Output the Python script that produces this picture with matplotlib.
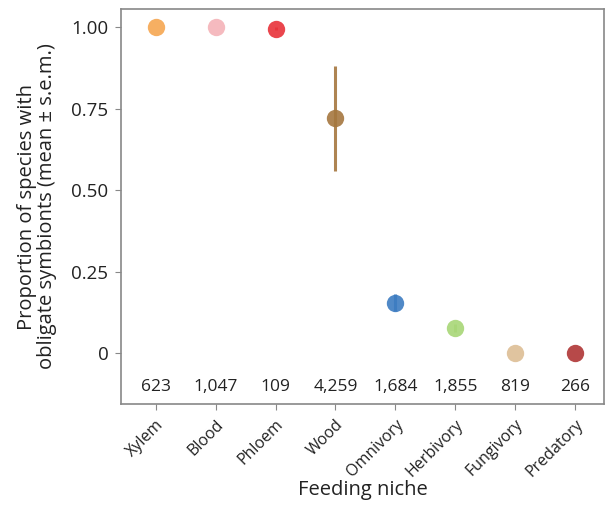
import matplotlib
matplotlib.use("Agg")
import matplotlib.pyplot as plt

plt.rcParams['font.family'] = ['Open Sans', 'DejaVu Sans']

niches = ['Xylem', 'Blood', 'Phloem', 'Wood', 'Omnivory', 'Herbivory', 'Fungivory', 'Predatory']
proportion = [1.0, 1.0, 0.995, 0.72, 0.155, 0.078, 0.0, 0.0]
sem = [0.0, 0.0, 0.004, 0.16, 0.025, 0.012, 0.0, 0.0]
n_species = ['623', '1,047', '109', '4,259', '1,684', '1,855', '819', '266']
colours = ['#F5A651', '#F4B3B8', '#E8323A', '#A5773F', '#3D7CC1', '#A8D677', '#DDBE95', '#AF3535']

fig = plt.figure(figsize=(6.05, 5.31), dpi=100)
ax = fig.add_axes([0.2, 0.239, 0.798, 0.744])

for i in range(len(niches)):
    ax.errorbar(i, proportion[i], yerr=sem[i], fmt='o', color=colours[i],
                markersize=12.5, markeredgewidth=0, elinewidth=2.2, capsize=0,
                alpha=0.9, zorder=3)
    ax.text(i, -0.105, n_species[i], ha='center', va='center', fontsize=12.5, color='#222222')

ax.set_xlim(-0.58, 7.48)
ax.set_ylim(-0.156, 1.055)
ax.set_xticks(range(len(niches)))
ax.set_xticklabels(niches, rotation=45, ha='right', rotation_mode='anchor', fontsize=11.5)
ax.set_yticks([0, 0.25, 0.5, 0.75, 1.0])
ax.set_yticklabels(['0', '0.25', '0.50', '0.75', '1.00'], fontsize=13.5)
ax.tick_params(axis='y', length=4, color='#888888', labelcolor='#222222', pad=5)
ax.tick_params(axis='x', length=4, color='#888888', labelcolor='#222222', pad=5)
for s in ax.spines.values():
    s.set_color('#888888')
    s.set_linewidth(1.2)

ax.set_ylabel('Proportion of species with\nobligate symbionts (mean ± s.e.m.)', fontsize=14.5,
              color='#222222', labelpad=10, linespacing=1.05)
ax.set_xlabel('Feeding niche', fontsize=14.5, color='#222222', labelpad=0)

plt.savefig('out.png', dpi=100)
